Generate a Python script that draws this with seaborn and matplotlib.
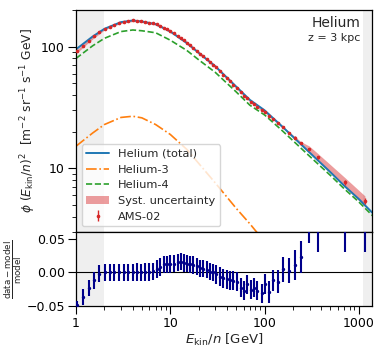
import numpy as np
import seaborn as sns
import matplotlib
matplotlib.use("Agg")
import matplotlib.pyplot as plt
from matplotlib.ticker import FuncFormatter, NullFormatter

# --- model curves (E_kin/n in GeV/n, E^2 flux) ---
e_model = [1, 1.5, 2, 3, 4, 5, 7, 10, 15, 20, 30, 50, 70, 100, 150, 200, 300, 500, 700, 1000, 1400]
he_total = [95, 121, 140, 159, 164, 161, 153, 133, 107, 89, 69, 47, 36.5, 30, 22.5, 18.2, 13.5, 9.3, 7.2, 5.6, 4.3]
he3 = [15.2, 19.5, 22.9, 26.2, 26.8, 26.0, 22.9, 19.0, 14.3, 11.0, 7.6, 4.7, 3.5, 2.5, 1.7, 1.3, 0.9, 0.55, 0.4, 0.3, 0.22]
he4 = [80, 101.5, 117, 133, 137, 135, 130, 113, 93, 78, 61.5, 42.5, 33, 27.5, 20.8, 16.9, 12.6, 8.75, 6.8, 5.3, 4.08]

# --- AMS-02 data ---
e_ams = [1.017, 1.18, 1.36, 1.55, 1.77, 2.01, 2.29, 2.55, 2.88, 3.23,
         3.58, 3.99, 4.47, 4.89, 5.43, 5.98, 6.49, 7.16, 7.77, 8.56,
         9.13, 9.9, 10.9, 12.0, 12.9, 13.9, 15.1, 16.2, 17.5, 19.0,
         20.7, 22.4, 24.3, 26.3, 28.5, 30.8, 33.5, 36.5, 39.6, 43.0,
         46.8, 50.6, 56.1, 61.0, 65.3, 71.0, 77.0, 84.0, 93.0, 102,
         112, 124, 139, 157, 180, 208, 243, 298, 371, 712, 1161]
flux_ams = [91.4, 101.1, 111.7, 121.5, 131.2, 140.2, 146.0, 151.0, 156.7, 160.2,
            161.8, 164.0, 162.7, 161.4, 159.3, 156.8, 155.1, 152.5, 148.1, 143.3,
            139.7, 135.3, 128.7, 122.2, 117.7, 113.0, 107.9, 103.0, 97.9, 92.6,
            87.6, 83.3, 79.0, 75.1, 71.3, 67.5, 63.1, 59.0, 55.4, 52.0,
            48.8, 45.9, 42.1, 39.4, 37.8, 35.3, 33.8, 32.1, 30.2, 29.1,
            26.9, 25.5, 23.4, 21.8, 19.7, 17.9, 16.1, 14.4, 12.3, 7.7, 5.4]
syst_rel = [0.03, 0.03, 0.03, 0.03, 0.03, 0.02, 0.02, 0.02, 0.02, 0.02,
            0.02, 0.02, 0.02, 0.02, 0.02, 0.02, 0.02, 0.02, 0.02, 0.02,
            0.02, 0.02, 0.02, 0.02, 0.02, 0.02, 0.02, 0.02, 0.02, 0.02,
            0.02, 0.02, 0.02, 0.02, 0.02, 0.02, 0.02, 0.02, 0.02, 0.02,
            0.02, 0.02, 0.02, 0.02, 0.02, 0.02, 0.02, 0.02, 0.02, 0.02,
            0.02, 0.02, 0.02, 0.02, 0.022, 0.025, 0.03, 0.06, 0.07, 0.09, 0.10]
residual = [-0.049, -0.037, -0.023, -0.012, -0.002, 0.000, 0.000, 0.000, 0.000, 0.000,
            0.000, 0.000, 0.0005, 0.000, 0.0005, 0.0005, 0.0015, 0.005, 0.008, 0.012,
            0.012, 0.0125, 0.013, 0.015, 0.016, 0.014, 0.013, 0.012, 0.011, 0.009,
            0.006, 0.0055, 0.004, 0.001, 0.000, -0.003, -0.0066, -0.009, -0.010, -0.0116,
            -0.0126, -0.014, -0.0227, -0.027, -0.018, -0.026, -0.023, -0.027, -0.031, -0.017,
            -0.029, -0.012, -0.014, 0.0045, 0.0025, 0.011, 0.023, 0.065, 0.065, 0.08, 0.085]
residual_err = [0.007, 0.012, 0.012, 0.012, 0.013, 0.013, 0.013, 0.013, 0.013, 0.013,
                0.013, 0.013, 0.013, 0.013, 0.013, 0.013, 0.013, 0.013, 0.013, 0.013,
                0.013, 0.013, 0.013, 0.013, 0.013, 0.013, 0.013, 0.013, 0.013, 0.013,
                0.013, 0.013, 0.013, 0.013, 0.013, 0.014, 0.014, 0.014, 0.014, 0.014,
                0.014, 0.014, 0.014, 0.014, 0.014, 0.014, 0.014, 0.014, 0.014, 0.015,
                0.016, 0.016, 0.017, 0.019, 0.019, 0.022, 0.024, 0.021, 0.034, 0.049, 0.054]

sns.set_style("ticks")
plt.rcParams["font.family"] = ["DejaVu Sans"]
plt.rcParams["mathtext.fontset"] = "dejavusans"

fig = plt.figure(figsize=(3.79, 3.48), dpi=100)
ax1 = fig.add_axes([0.2005, 0.3333, 0.781, 0.638])
ax2 = fig.add_axes([0.2005, 0.1207, 0.781, 0.2126], sharex=ax1)

flux = np.array(flux_ams)
sys_r = np.array(syst_rel)
res_e = np.array(residual_err)

# shaded energy ranges
for ax in (ax1, ax2):
    ax.axvspan(1, 2, color="#efefef", zorder=0, lw=0)
    ax.axvspan(1120, 2000, color="#efefef", zorder=0, lw=0)

ax1.fill_between(e_ams, flux * (1 - sys_r), flux * (1 + sys_r),
                 color="tab:red", alpha=0.45, lw=0, zorder=1, label="Syst. uncertainty")
sns.lineplot(x=e_model, y=he_total, ax=ax1, color="tab:blue", lw=1.4, sort=False,
             label="Helium (total)", zorder=2)
sns.lineplot(x=e_model, y=he3, ax=ax1, color="tab:orange", lw=1.2, sort=False,
             label="Helium-3", zorder=2)
sns.lineplot(x=e_model, y=he4, ax=ax1, color="tab:green", lw=1.2, sort=False,
             label="Helium-4", zorder=2)
ax1.lines[-2].set_linestyle("-.")
ax1.lines[-1].set_linestyle("--")
ax1.errorbar(e_ams, flux, yerr=flux * res_e, fmt="o", ms=1.6, color="tab:red",
             elinewidth=1.0, capsize=0, zorder=3, label="AMS-02")

ax1.set_xscale("log")
ax1.set_yscale("log")
ax1.set_xlim(1, 1380)
ax1.set_ylim(3.0, 200)
h, l = ax1.get_legend_handles_labels()
order = ["Helium (total)", "Helium-3", "Helium-4", "Syst. uncertainty", "AMS-02"]
hd = dict(zip(l, h))
ax1.legend([hd[k] for k in order], order, loc="lower left", fontsize=8.2,
           frameon=True, framealpha=0.8, edgecolor="0.8", borderaxespad=0.5)

ax1.text(0.96, 0.94, "Helium", transform=ax1.transAxes, ha="right", va="center", fontsize=10)
ax1.text(0.96, 0.875, "z = 3 kpc", transform=ax1.transAxes, ha="right", va="center", fontsize=8)
ax1.set_ylabel(r"$\phi\ (E_{\rm kin}/n)^2$  [m$^{-2}$ sr$^{-1}$ s$^{-1}$ GeV]", fontsize=8.8)
ax1.yaxis.set_label_coords(-0.13, 0.5)
ax1.yaxis.set_major_formatter(FuncFormatter(lambda v, _: f"{v:g}"))
ax1.yaxis.set_minor_formatter(NullFormatter())
ax1.tick_params(axis="x", which="both", bottom=False, labelbottom=False)

ax2.errorbar(e_ams, residual, yerr=residual_err, fmt="o", ms=1.4, color="darkblue",
             elinewidth=1.5, capsize=0, zorder=3)
ax2.axhline(0, color="black", lw=0.8, zorder=2)
ax2.set_ylim(-0.05, 0.06)
ax2.set_yticks([-0.05, 0.0, 0.05])
ax2.yaxis.set_major_formatter(FuncFormatter(lambda v, _: f"{v:.2f}".replace("-", "\u2212")))
ax2.xaxis.set_major_formatter(FuncFormatter(lambda v, _: f"{v:g}"))
ax2.xaxis.set_minor_formatter(NullFormatter())
ax2.set_xlabel(r"$E_{\rm kin}/n$ [GeV]", fontsize=9.5, labelpad=1.5)
ax2.set_ylabel(r"$\frac{\rm data - model}{\rm model}$", fontsize=9)
ax2.yaxis.set_label_coords(-0.175, 0.5)

for ax in (ax1, ax2):
    ax.tick_params(which="major", length=5.5, width=0.8, labelsize=9, colors="black", pad=2.5)
    ax.tick_params(which="minor", length=3, width=0.6, colors="black")
    for s in ax.spines.values():
        s.set_color("black")
        s.set_linewidth(0.9)

fig.savefig("out.png", dpi=100)
